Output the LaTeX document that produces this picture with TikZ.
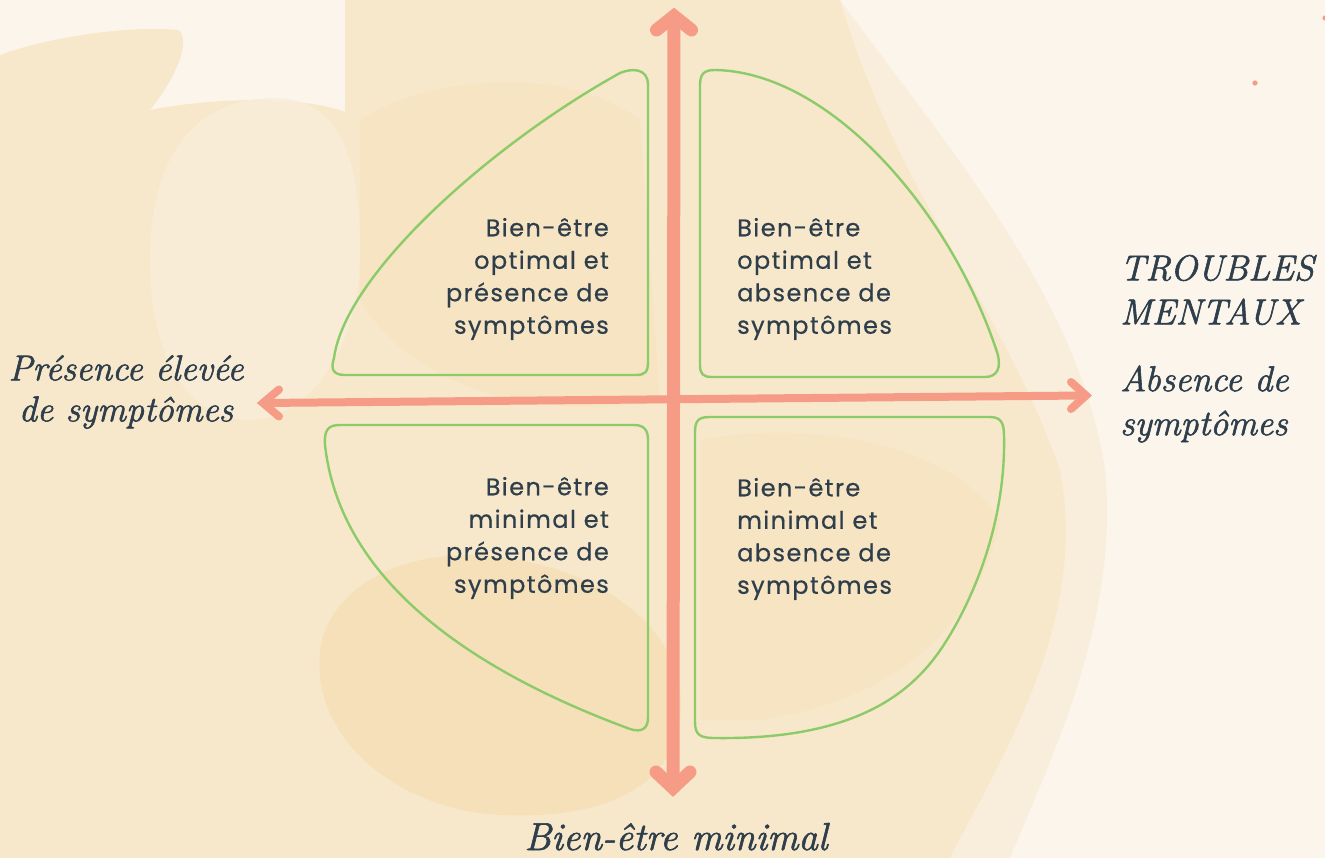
\documentclass[tikz,border=0pt]{standalone}
\usepackage{fontspec}
\newfontfamily\boxfont{Poppins}[LetterSpace=6, FakeBold=0.6]
\newfontfamily\handfont{Latin Modern Roman}[ItalicFeatures={FakeBold=1.6}]
\definecolor{bgbase}{HTML}{FBF5EC}
\definecolor{bgwarm}{HTML}{F8E8CB}
\definecolor{bgdeep}{HTML}{F4DCAE}
\definecolor{bglight}{HTML}{FAEEDA}
\definecolor{salmon}{HTML}{F69C86}
\definecolor{leaf}{HTML}{8CCB6A}
\definecolor{ink}{HTML}{2E3E4B}
\tikzset{
  leafline/.style={draw=leaf, line width=2.4pt, line join=round},
  vaxis/.style={draw=salmon, line width=13pt},
  haxis/.style={draw=salmon, line width=8pt},
  vhead/.style={draw=salmon, line width=13pt, line cap=round, line join=miter},
  hhead/.style={draw=salmon, line width=8pt, line cap=round, line join=miter},
  boxtext/.style={font=\boxfont\fontsize{24}{32.5}\selectfont, text=ink, inner sep=0pt},
  handtext/.style={font=\handfont\itshape\fontsize{36}{44}\selectfont, text=ink, inner sep=0pt},
}
\begin{document}
\begin{tikzpicture}[x=1pt,y=-1pt]
\useasboundingbox (0,0) rectangle (1325,858);
% background
\fill[bgbase] (0,0) rectangle (1325,858);
\fill[bgwarm] (0,55) .. controls (40,40) and (120,25) .. (178,30)
  .. controls (190,36) and (182,70) .. (150,110)
  .. controls (210,98) and (300,95) .. (345,112) -- (345,0) -- (840,0)
  .. controls (900,200) and (1000,300) .. (1060,470)
  .. controls (1090,620) and (1000,760) .. (950,858) -- (0,858) -- cycle;
\fill[bgwarm,opacity=0.5] (840,0) .. controls (950,150) and (1080,300) .. (1105,470)
  .. controls (1120,620) and (1050,760) .. (1010,858) -- (950,858)
  .. controls (1000,760) and (1090,620) .. (1060,470)
  .. controls (1000,300) and (900,200) .. (840,0) -- cycle;
\fill[bglight,opacity=0.8] (150,260) .. controls (150,150) and (200,100) .. (270,98)
  .. controls (330,96) and (360,140) .. (360,250)
  .. controls (360,360) and (300,420) .. (250,420)
  .. controls (190,420) and (150,360) .. (150,260) -- cycle;
\fill[bgdeep,opacity=0.6] (320,650) .. controls (330,580) and (420,540) .. (520,560)
  .. controls (620,580) and (690,640) .. (680,720)
  .. controls (670,790) and (600,820) .. (500,815)
  .. controls (400,810) and (310,740) .. (320,650) -- cycle;
\fill[bgdeep,opacity=0.3] (360,120) .. controls (420,80) and (560,60) .. (640,120) -- (660,400) .. controls (560,420) and (420,400) .. (360,300) -- cycle;
\fill[bgdeep,opacity=0.25] (700,440) .. controls (800,420) and (950,440) .. (1000,520)
  .. controls (980,620) and (900,700) .. (760,720) -- (700,720) -- cycle;

% quadrant shapes
\draw[leafline] (620,73) .. controls (632,68) and (648,68) .. (648,85) -- (648,362)
  .. controls (648,372) and (645,375) .. (636,375) -- (345,375)
  .. controls (334,375) and (330,370) .. (334,358)
  .. controls (345,275) and (490,145) .. (620,73) -- cycle;
\draw[leafline] (715,70) .. controls (830,72) and (950,210) .. (997,352)
  .. controls (1002,368) and (997,377) .. (985,377) -- (712,377)
  .. controls (703,377) and (700,374) .. (700,365) -- (700,85)
  .. controls (700,74) and (704,70) .. (715,70) -- cycle;
\draw[leafline] (340,425) -- (634,425) .. controls (644,425) and (648,430) .. (648,440)
  -- (648,718) .. controls (648,728) and (642,733) .. (630,729)
  .. controls (470,670) and (340,580) .. (325,445)
  .. controls (324,430) and (328,425) .. (340,425) -- cycle;
\draw[leafline] (710,417) -- (990,417) .. controls (1000,417) and (1004,422) .. (1004,435)
  .. controls (1006,520) and (975,596) .. (945,643)
  .. controls (915,690) and (860,740) .. (715,738)
  .. controls (700,738) and (695,735) .. (695,722) -- (695,432)
  .. controls (695,420) and (699,417) .. (710,417) -- cycle;

% quadrant texts
\node[boxtext, align=right, anchor=east] (tl) at (609,279) {Bien-être\\optimal et\\présence de\\symptômes};
\node[boxtext, align=left, anchor=west] (tr) at (737,279) {Bien-être\\optimal et\\absence de\\symptômes};
\node[boxtext, align=right, anchor=east] (bl) at (609,538) {Bien-être\\minimal et\\présence de\\symptômes};
\node[boxtext, align=left, anchor=west] (br) at (737,539) {Bien-être\\minimal et\\absence de\\symptômes};

% axes
\coordinate (vtop) at (674,16);
\coordinate (vbot) at (673,788);
\coordinate (hleft) at (263,403);
\coordinate (hright) at (1086,395.5);
\draw[vaxis] (vtop) -- (vbot);
\draw[haxis] (hleft) -- (hright);
\draw[vhead] (656.5,30) -- (vtop) -- (691.5,30);
\draw[vhead] (656,772) -- (vbot) -- (690,772);
\draw[hhead] (1071,382) -- (hright) -- (1071,409);
\draw[hhead] (279,389.5) -- (hleft) -- (279,416.5);

% axis labels
\node[handtext, align=left, anchor=west] (troubles) at (1120,290) {TROUBLES\\MENTAUX};
\node[handtext, align=left, anchor=west] (absence) at (1120,404) {Absence de\\symptômes};
\node[handtext, align=center, font=\handfont\itshape\fontsize{36}{41}\selectfont] (presence) at (126,392) {Présence élevée\\de symptômes};
\node[handtext, anchor=base, font=\handfont\itshape\fontsize{39}{44}\selectfont] (minimal) at (676,850) {Bien-être minimal};

% dots
\fill[salmon] (1255,83) circle (2.6);
\fill[salmon] (1325,18) circle (2.6);
\end{tikzpicture}
\end{document}
